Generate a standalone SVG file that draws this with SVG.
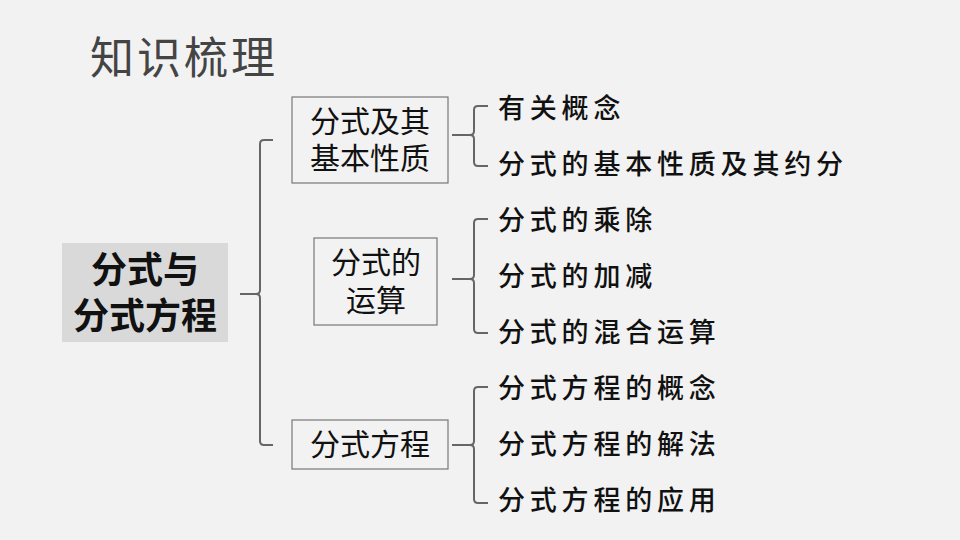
<svg xmlns="http://www.w3.org/2000/svg" width="960" height="540" viewBox="0 0 960 540">
<style>
text{font-family:"Liberation Serif","Noto Sans CJK SC",serif;fill:#111}
.box{fill:none;stroke:#777;stroke-width:1.2}
.br{fill:none;stroke:#666;stroke-width:2}
.b{font-size:30px;text-anchor:middle}
.r{font-size:36px;font-weight:bold;text-anchor:middle}
.i{font-size:27px;letter-spacing:4.8px;font-weight:500}
</style>
<rect width="960" height="540" fill="#f2f2f2"/>
<text x="90" y="74" font-size="44" letter-spacing="3" style="fill:#444">知识梳理</text>
<g id="root"><rect x="62" y="243" width="166" height="99" fill="#d9d9d9"/>
<text x="145" y="283" class="r">分式与</text>
<text x="145" y="329" class="r">分式方程</text></g>
<g id="n1"><rect class="box" x="292" y="97" width="156" height="86"/>
<text x="370" y="132" class="b">分式及其</text><text x="370" y="169" class="b">基本性质</text></g>
<g id="n2"><rect class="box" x="314" y="238" width="123" height="87"/>
<text x="376" y="273" class="b">分式的</text><text x="376" y="311" class="b">运算</text></g>
<g id="n3"><rect class="box" x="292" y="420" width="156" height="49"/>
<text x="370" y="455" class="b">分式方程</text></g>
<g id="items">
<text x="498" y="118" class="i">有关概念</text>
<text x="498" y="174" class="i">分式的基本性质及其约分</text>
<text x="498" y="230" class="i">分式的乘除</text>
<text x="498" y="286" class="i">分式的加减</text>
<text x="498" y="342" class="i">分式的混合运算</text>
<text x="498" y="398" class="i">分式方程的概念</text>
<text x="498" y="454" class="i">分式方程的解法</text>
<text x="498" y="510" class="i">分式方程的应用</text>
</g>
<g id="connectors">
<path class="br" d="M273 140 H264 Q260 140 260 144 V290 Q260 294 256 294 H240 M256 294 Q260 294 260 298 V441 Q260 445 264 445 H273"/>
<path class="br" d="M488 106 H478 Q474 106 474 110 V131 Q474 135 470 135 H452 M470 135 Q474 135 474 139 V162 Q474 166 478 166 H488"/>
<path class="br" d="M488 219 H478 Q474 219 474 223 V275 Q474 279 470 279 H452 M470 279 Q474 279 474 283 V329 Q474 333 478 333 H488"/>
<path class="br" d="M488 387 H478 Q474 387 474 391 V441 Q474 445 470 445 H452 M470 445 Q474 445 474 449 V499 Q474 503 478 503 H488"/>
</g>
</svg>
